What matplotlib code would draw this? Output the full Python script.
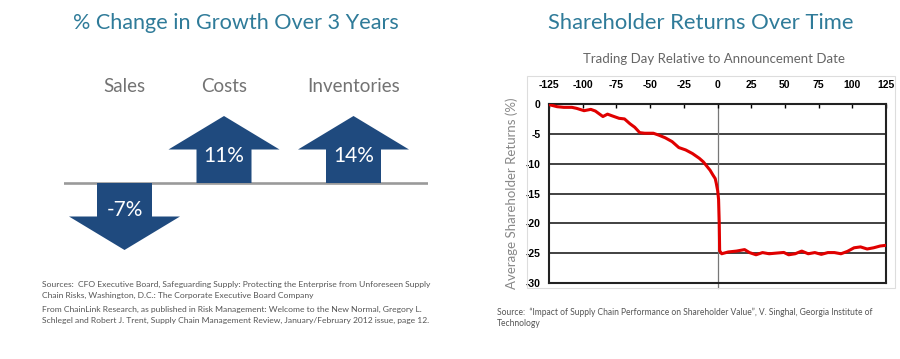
import matplotlib
matplotlib.use("Agg")
import matplotlib.pyplot as plt
from matplotlib.patches import Polygon, Rectangle

# ---------------- data ----------------
categories = ["Sales", "Costs", "Inventories"]
growth_pct = [-7, 11, 14]

days = [-125, -119, -114, -108, -104.5, -99, -94, -90.6, -85, -81.6, -78, -73, -69,
        -65, -61.4, -57.7, -54, -47.6, -43.8, -38.8, -33.7, -28.7, -23.6, -18.6,
        -13.5, -10.5, -5.5, -3.4, -1.7, -0.9, 0.1, 0.8, 1.3, 1.6, 3.1, 8, 14.1,
        20.1, 23.7, 28.6, 33.4, 38.3, 43.1, 49.2, 52.8, 57.6, 62.5, 67.3, 72.2,
        77, 81.9, 86.7, 91.6, 96.4, 101.3, 106.1, 111, 115.8, 120.7, 124.5]
returns = [-0.1, -0.45, -0.56, -0.56, -0.73, -1.12, -0.9, -1.18, -2.1, -1.7, -2.0,
           -2.4, -2.5, -3.3, -3.9, -4.8, -4.9, -4.9, -5.2, -5.66, -6.3, -7.3, -7.7,
           -8.3, -9.1, -9.7, -11.1, -11.9, -12.5, -13.3, -14.5, -16.0, -20.0,
           -24.6, -25.1, -24.8, -24.65, -24.4, -24.9, -25.27, -24.9, -25.1, -25.0,
           -24.88, -25.27, -25.1, -24.65, -25.1, -24.9, -25.2, -24.9, -24.9, -25.1,
           -24.7, -24.1, -23.95, -24.3, -24.1, -23.8, -23.7]

xticks = [-125, -100, -75, -50, -25, 0, 25, 50, 75, 100, 125]
yticks = [0, -5, -10, -15, -20, -25, -30]

# ---------------- style ----------------
W, H = 900, 359
TEAL = "#2f7b99"
NAVY = "#1f4a7e"
GRAY = "#737373"
SRC = "#555555"
TITLE_FONT = ["Lato", "DejaVu Sans"]

fig = plt.figure(figsize=(W / 100, H / 100), dpi=100)
fig.patch.set_facecolor("white")


def fx(px):
    return px / W


def fy(py):
    return 1 - py / H


# ---------------- left panel ----------------
fig.text(fx(235.5), fy(23), "% Change in Growth Over 3 Years", family=TITLE_FONT,
         fontsize=15.6, color=TEAL, ha="center", va="center")

axL = fig.add_axes([fx(64), fy(250), fx(428) - fx(64), (250 - 116) / H])
axL.set_xlim(0, 3.64)
axL.set_ylim(-0.67, 0.67)
axL.axis("off")
axL.axhline(0, color="#9a9a9a", lw=1.9, zorder=1)

arrow_x = [0.605, 1.60, 2.895]
shaft_w, head_w, total_len, head_len = 0.275, 0.555, 0.67, 0.335
for cx, cat, v in zip(arrow_x, categories, growth_pct):
    s = 1 if v > 0 else -1
    hb = s * (total_len - head_len)
    pts = [(cx - shaft_w, 0), (cx - shaft_w, hb), (cx - head_w, hb),
           (cx, s * total_len), (cx + head_w, hb), (cx + shaft_w, hb),
           (cx + shaft_w, 0)]
    axL.add_patch(Polygon(pts, closed=True, facecolor=NAVY, edgecolor="none",
                          zorder=2))
    axL.text(cx, s * 0.27, f"{v}%", color="white", fontsize=15,
             family=TITLE_FONT, ha="center", va="center", zorder=3)
    axL.text(cx, 0.97, cat, color=GRAY, fontsize=13.5, family=TITLE_FONT,
             ha="center", va="center", clip_on=False)

src_left = [
    "Sources:  CFO Executive Board, Safeguarding Supply: Protecting the Enterprise from Unforeseen Supply",
    "Chain Risks, Washington, D.C.: The Corporate Executive Board Company",
    "From ChainLink Research, as published in Risk Management: Welcome to the New Normal, Gregory L.",
    "Schlegel and Robert J. Trent, Supply Chain Management Review, January/February 2012 issue, page 12.",
]
for line, py in zip(src_left, [284, 295, 309, 320]):
    fig.text(fx(42), fy(py), line, family=TITLE_FONT, fontsize=6.1, color=SRC,
             ha="left", va="center")

# ---------------- right panel ----------------
fig.text(fx(701), fy(23), "Shareholder Returns Over Time", family=TITLE_FONT,
         fontsize=15.8, color=TEAL, ha="center", va="center")
fig.text(fx(714), fy(59), "Trading Day Relative to Announcement Date",
         family=TITLE_FONT, fontsize=9.5, color="#666666", ha="center",
         va="center")

# light frame around chart
fig.patches.append(Rectangle((fx(527), fy(288)), fx(895) - fx(527),
                             (288 - 76) / H, transform=fig.transFigure,
                             facecolor="none", edgecolor="#dddddd", lw=0.8,
                             zorder=0))

axR = fig.add_axes([fx(549), fy(283), fx(886) - fx(549), (283 - 104) / H])
axR.set_xlim(-125, 125)
axR.set_ylim(-30, 0)
axR.set_facecolor("white")
for sp in axR.spines.values():
    sp.set_linewidth(1.5)
    sp.set_color("#222222")
axR.xaxis.tick_top()
axR.set_xticks(xticks)
axR.set_xticklabels([str(t) for t in xticks])
axR.set_yticks(yticks)
axR.set_yticklabels([str(t) for t in yticks])
axR.tick_params(axis="x", direction="in", length=3, width=1, pad=10,
                labelsize=7.5, colors="black")
axR.tick_params(axis="y", length=0, pad=6, labelsize=7.5)
for lab in axR.get_xticklabels() + axR.get_yticklabels():
    lab.set_fontweight("bold")
    lab.set_family(["Liberation Sans", "DejaVu Sans"])
for yv in yticks[1:-1]:
    axR.axhline(yv, color="#333333", lw=1.3, zorder=1)
axR.axvline(0, ymin=-0.03, ymax=1, color="#777777", lw=0.9, clip_on=False,
            zorder=1)
axR.plot(days, returns, color="#e00000", lw=2.2, zorder=3)

fig.text(fx(512), fy(193), "Average Shareholder Returns (%)", family=TITLE_FONT,
         fontsize=9.5, color="#888888", rotation=90, ha="center", va="center")

src_right = [
    "Source:  \u201cImpact of Supply Chain Performance on Shareholder Value\u201d, V. Singhal, Georgia Institute of",
    "Technology",
]
for line, py in zip(src_right, [312, 323]):
    fig.text(fx(497), fy(py), line, family=TITLE_FONT, fontsize=6.15, color=SRC,
             ha="left", va="center")

fig.savefig("out.png", dpi=100, facecolor="white")
